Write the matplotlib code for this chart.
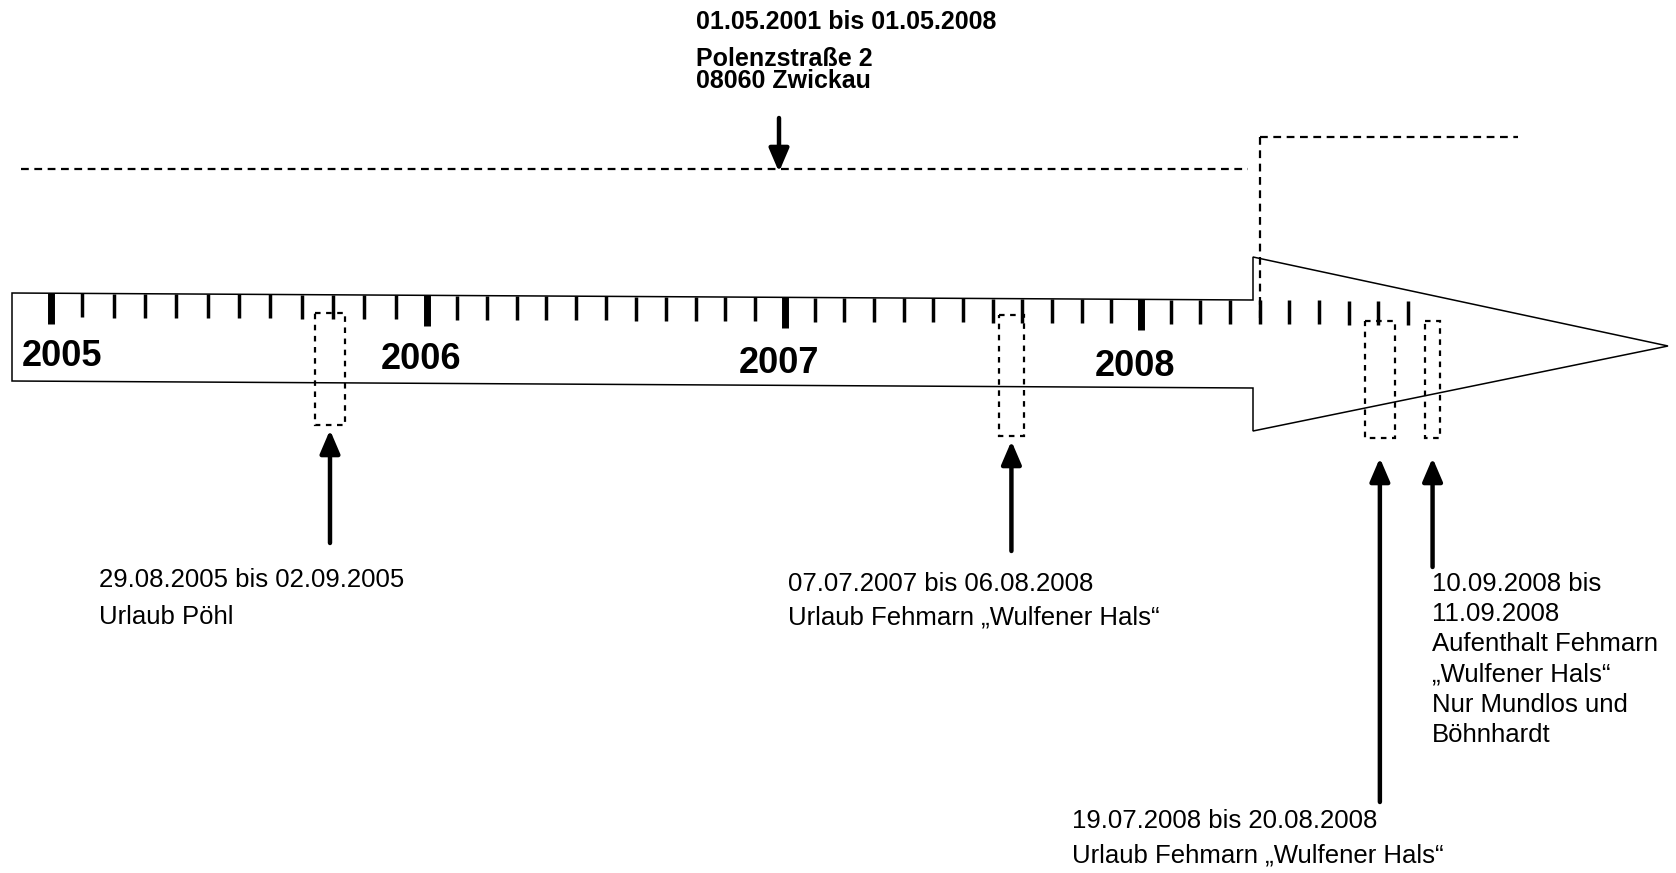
import numpy as np
import matplotlib
matplotlib.use("Agg")
import matplotlib.pyplot as plt
from matplotlib.patches import Polygon, Rectangle

plt.rcParams['font.family'] = ['Liberation Sans', 'DejaVu Sans']

# --- data ---
years = [2005, 2006, 2007, 2008]
n_months = 46                      # Jan 2005 .. Oct 2008
res_end = 2008 + 4 / 12            # 01.05.2008
header = ["01.05.2001 bis 01.05.2008", "Polenzstraße 2", "08060 Zwickau"]

event_lines = [
    ["29.08.2005 bis 02.09.2005", "Urlaub Pöhl"],
    ["07.07.2007 bis 06.08.2008", "Urlaub Fehmarn \u201eWulfener Hals\u201c"],
    ["19.07.2008 bis 20.08.2008", "Urlaub Fehmarn \u201eWulfener Hals\u201c"],
    ["10.09.2008 bis", "11.09.2008", "Aufenthalt Fehmarn",
     "\u201eWulfener Hals\u201c", "Nur Mundlos und", "Böhnhardt"],
]
box_start = [2005.702, 2007.601, 2008.629, 2008.798]
box_end = [2005.782, 2007.671, 2008.713, 2008.840]

# --- layout (pixels, figure is 1676x873) ---
W, H = 1676, 873
year_px = [51, 427, 785, 1141, 1497]

def xpos(t):
    return np.interp(t, [2005, 2006, 2007, 2008, 2009], year_px)

def tilt(x):
    # scan is slightly rotated
    return (x - 12) * 7 / 1241

body_left, body_right = 12, 1253
body_top, body_bot = 293, 381
head_top, head_bot, tip = 257, 431, (1668, 346)

fig = plt.figure(figsize=(W / 100, H / 100), dpi=100)
ax = fig.add_axes([0, 0, 1, 1])
ax.set_xlim(0, W)
ax.set_ylim(H, 0)
ax.axis('off')

# big arrow outline
outline = [
    (body_left, body_top), (body_right, body_top + tilt(body_right)),
    (body_right, head_top), tip, (body_right, head_bot),
    (body_right, body_bot + tilt(body_right)), (body_left, body_bot),
]
ax.add_patch(Polygon(outline, closed=True, fill=False, ec='black', lw=1.1))

# month ticks
for m in range(n_months):
    x = xpos(2005 + m / 12)
    y0 = body_top + tilt(x)
    major = m % 12 == 0
    ax.plot([x, x], [y0, y0 + (31 if major else 24)], color='black',
            lw=5.0 if major else 2.5, solid_capstyle='butt')

# year labels
for yr in years:
    x = max(xpos(yr) - 6, 62)
    ax.text(x, 356 + (x - 62) * 11 / 1080, str(yr), fontsize=26,
            fontweight='bold', ha='center', va='center')

# residence dashed lines
dash = (0, (3.5, 2.5))
x_res = xpos(res_end)
ax.plot([21, x_res - 12], [169, 169], color='black', lw=1.6, ls=dash)
ax.plot([x_res, x_res], [137, 318], color='black', lw=1.6, ls=dash)
ax.plot([x_res, 1518], [137, 137], color='black', lw=1.6, ls=dash)

# header text + arrow
ax.text(696, 22, header[0], fontsize=18, fontweight='bold', va='center')
ax.text(696, 59, header[1], fontsize=18, fontweight='bold', va='center')
ax.text(696, 81, header[2], fontsize=18, fontweight='bold', va='center')
arrow_kw = dict(arrowstyle='-|>,head_length=0.7,head_width=0.3', lw=3.2,
                color='black', shrinkA=0, shrinkB=0, mutation_scale=20)
ax.annotate('', xy=(779, 172), xytext=(779, 118), arrowprops=arrow_kw)

# event boxes, arrows and labels
box_top = [313, 315, 321, 321]
box_bot = [425, 436, 438, 438]
arrow_tip = [430, 441, 458, 458]
arrow_tail = [543, 551, 802, 567]
text_x = [99, 788, 1072, 1432]
text_y0 = [580, 584, 821, 584]
text_step = [37, 34, 34, 30.2]

for i in range(len(event_lines)):
    x0, x1 = xpos(box_start[i]), xpos(box_end[i])
    ax.add_patch(Rectangle((x0, box_top[i]), x1 - x0, box_bot[i] - box_top[i],
                           fill=False, ec='black', lw=1.6, ls=(0, (2.5, 2.5))))
    xc = (x0 + x1) / 2
    ax.annotate('', xy=(xc, arrow_tip[i]), xytext=(xc, arrow_tail[i]),
                arrowprops=arrow_kw)
    for j, line in enumerate(event_lines[i]):
        ax.text(text_x[i], text_y0[i] + j * text_step[i], line,
                fontsize=18.5, va='center')

fig.savefig('out.png', dpi=100, facecolor='white')
